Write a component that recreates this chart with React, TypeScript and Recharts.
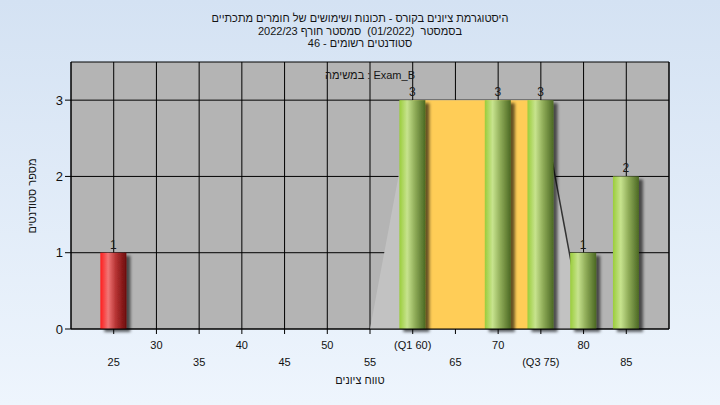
import { ComposedChart, Bar, Area, XAxis, YAxis, CartesianGrid, LabelList } from "recharts";

const titleLines = [
  "היסטוגרמת ציונים בקורס - תכונות ושימושים של חומרים מתכתיים",
  "בסמסטר  (01/2022)  סמסטר חורף 2022/23",
  "סטודנטים רשומים - 46",
];
const taskLabel = "במשימה : Exam_B";
const xTitle = "טווח ציונים";
const yTitle = "מספר סטודנטים";

const xTicks = [25, 30, 35, 40, 45, 50, 55, 60, 65, 70, 75, 80, 85];
const xTickLabels = ["25", "30", "35", "40", "45", "50", "55", "(Q1 60)", "65", "70", "(Q3 75)", "80", "85"];
const yTicks = [0, 1, 2, 3];

const scores = [25, 60, 70, 75, 80, 85];
const counts = [1, 3, 3, 3, 1, 2];
const passMark = 55;

// box-plot like overlay: spread (min..max), inter-quartile range, upper whisker
const spreadX = [55, 60, 75, 80];
const spreadY = [0, 3, 3, 0];
const iqrX = [60, 75];
const iqrY = [3, 3];
const whiskerX = [75, 80];
const whiskerY = [3, 0];

const barData = scores.map((s, i) => ({ x: s, count: counts[i] }));
const spreadData = spreadX.map((x, i) => ({ x, y: spreadY[i] }));
const iqrData = iqrX.map((x, i) => ({ x, y: iqrY[i] }));
const whiskerData = whiskerX.map((x, i) => ({ x, y: whiskerY[i] }));

const font = "'Liberation Sans', Arial, 'DejaVu Sans', sans-serif";

function XTick(props: any) {
  const { x, y, payload } = props;
  const i = xTicks.indexOf(payload.value);
  const dy = i % 2 === 1 ? 13 : 30;
  return (
    <text x={x} y={y + dy} textAnchor="middle" fontSize={11} fill="#111">
      {xTickLabels[i]}
    </text>
  );
}

function CylBar(props: any) {
  const { x, y, width, height, payload } = props;
  if (!height) return null;
  const fill = payload.x < passMark ? "url(#gRed)" : "url(#gGreen)";
  return (
    <g filter="url(#barShadow)">
      <rect x={x} y={y} width={width} height={height} fill={fill} />
    </g>
  );
}

export default function App() {
  return (
    <div
      style={{
        position: "absolute",
        left: 0,
        top: 0,
        width: 720,
        height: 405,
        background: "linear-gradient(#d4e2f3, #eef5fd)",
        fontFamily: font,
        overflow: "hidden",
      }}
    >
      <div style={{ position: "absolute", left: 0, top: 12, width: 720, textAlign: "center", fontSize: 11, lineHeight: "12.5px", color: "#141414", whiteSpace: "pre" }}>
        {titleLines.map((t) => (
          <div key={t}>{t}</div>
        ))}
      </div>
      <ComposedChart width={720} height={405} data={barData} margin={{ top: 62, right: 21, bottom: 36, left: 41 }}>
        <defs>
          <linearGradient id="gGreen" x1="0" y1="0" x2="1" y2="0">
            <stop offset="0" stopColor="#9acd3a" />
            <stop offset="0.3" stopColor="#c7e38e" />
            <stop offset="0.6" stopColor="#8fac58" />
            <stop offset="1" stopColor="#4b6823" />
          </linearGradient>
          <linearGradient id="gRed" x1="0" y1="0" x2="1" y2="0">
            <stop offset="0" stopColor="#ff1c1c" />
            <stop offset="0.3" stopColor="#f07676" />
            <stop offset="0.6" stopColor="#b53232" />
            <stop offset="1" stopColor="#6c0b0b" />
          </linearGradient>
          <filter id="barShadow" x="-20%" y="-10%" width="160%" height="130%">
            <feDropShadow dx="4" dy="3" stdDeviation="1.4" floodColor="#000" floodOpacity="0.6" />
          </filter>
        </defs>
        <CartesianGrid stroke="#000" strokeOpacity={1} fill="#b4b4b4" fillOpacity={1} />
        <XAxis
          dataKey="x"
          type="number"
          domain={[20, 90]}
          ticks={xTicks}
          interval={0}
          tick={<XTick />}
          tickSize={5}
          stroke="#000"
          height={40}
          allowDataOverflow
        />
        <YAxis domain={[0, 3.5]} ticks={yTicks} width={30} tickSize={6} tickMargin={2} stroke="#000" tick={{ fill: "#111", fontSize: 13 }} />
        <YAxis yAxisId="r" orientation="right" domain={[0, 3.5]} ticks={yTicks} width={30} tickSize={6} tickMargin={2} stroke="#000" tick={{ fill: "#111", fontSize: 13 }} />
        <Area data={spreadData} dataKey="y" type="linear" fill="#c2c2c2" fillOpacity={1} stroke="none" isAnimationActive={false} />
        <Area data={iqrData} dataKey="y" type="linear" fill="#ffcd57" fillOpacity={1} stroke="none" isAnimationActive={false} />
        <Area data={whiskerData} dataKey="y" type="linear" fill="none" fillOpacity={0} stroke="#333" strokeWidth={1.5} dot={false} activeDot={false} isAnimationActive={false} />
        <Bar dataKey="count" barSize={26} shape={<CylBar />} isAnimationActive={false}>
          <LabelList dataKey="count" position="top" offset={4} fill="#1a1a1a" fontSize={12} />
        </Bar>
      </ComposedChart>
      <div style={{ position: "absolute", left: 270, top: 69, width: 200, textAlign: "center", fontSize: 11, color: "#141414" }}>
        {taskLabel}
      </div>
      <div style={{ position: "absolute", left: 260, top: 374, width: 200, textAlign: "center", fontSize: 11, color: "#141414" }}>
        {xTitle}
      </div>
      <div
        style={{
          position: "absolute",
          left: 34 - 60,
          top: 196 - 8,
          width: 120,
          height: 16,
          textAlign: "center",
          fontSize: 11,
          color: "#141414",
          transform: "rotate(-90deg)",
        }}
      >
        {yTitle}
      </div>
    </div>
  );
}
